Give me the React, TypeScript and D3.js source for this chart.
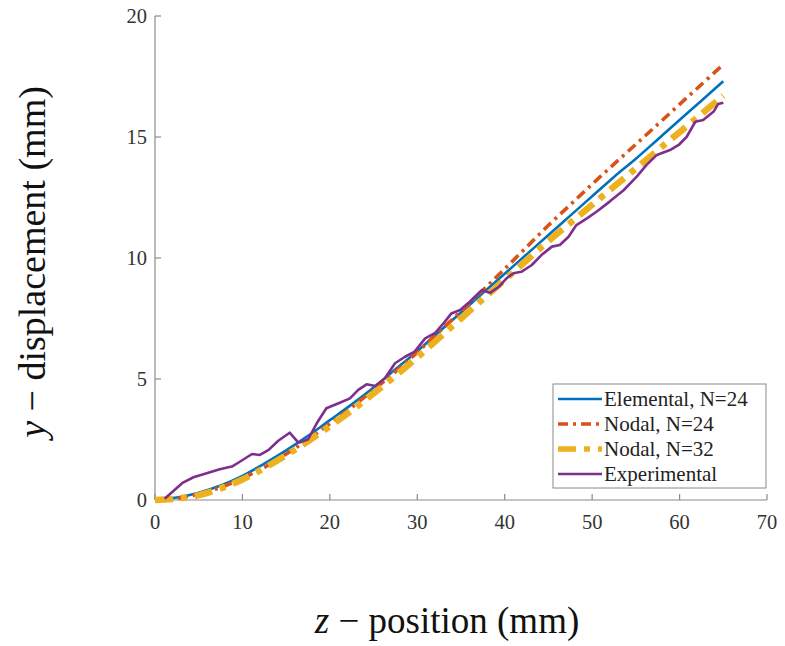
import React from "react";
import * as d3 from "d3";

const modelZ = [0, 2.5, 5, 7.5, 10, 12.5, 15, 17.5, 20, 22.5, 25, 27.5, 30, 32.5, 35, 37.5, 40, 42.5, 45, 47.5, 50, 52.5, 55, 57.5, 60, 62.5, 65];
const elementalY = [0, 0.1, 0.3, 0.6, 1.0, 1.5, 2.05, 2.65, 3.3, 3.95, 4.65, 5.4, 6.15, 6.95, 7.75, 8.55, 9.35, 10.15, 10.95, 11.75, 12.55, 13.35, 14.1, 14.9, 15.7, 16.5, 17.3];
const nodal24Y = [0, 0.07, 0.25, 0.52, 0.9, 1.35, 1.9, 2.5, 3.15, 3.83, 4.55, 5.3, 6.1, 6.95, 7.8, 8.67, 9.55, 10.45, 11.35, 12.2, 13.05, 13.88, 14.7, 15.52, 16.35, 17.17, 18.0];
const nodal32Y = [0, 0.06, 0.2, 0.48, 0.85, 1.32, 1.85, 2.43, 3.05, 3.7, 4.4, 5.13, 5.9, 6.7, 7.5, 8.3, 9.1, 9.9, 10.7, 11.45, 12.2, 12.95, 13.7, 14.45, 15.2, 15.95, 16.7];

const expZ = [1.1, 3.2, 4.4, 6.1, 7.4, 8.8, 9.7, 11.1, 12.0, 13.0, 14.1, 15.4, 16.4, 17.5, 18.5, 19.6, 21.0, 22.3, 23.25, 24.2, 25.2, 26.3, 27.45, 28.6, 29.7, 30.9, 32.0, 33.0, 33.9, 34.9, 36.0, 37.4, 38.3, 39.3, 40.2, 41.0, 41.9, 43.1, 44.2, 45.4, 46.3, 47.3, 48.2, 49.4, 50.5, 52.0, 53.6, 55.1, 56.2, 57.4, 58.9, 59.9, 60.8, 61.8, 62.7, 63.9, 64.4, 65.0];
const expY = [0.05, 0.72, 0.94, 1.13, 1.27, 1.38, 1.58, 1.9, 1.86, 2.07, 2.45, 2.78, 2.37, 2.5, 3.17, 3.79, 4.0, 4.2, 4.55, 4.78, 4.71, 5.03, 5.65, 5.92, 6.13, 6.68, 6.89, 7.3, 7.71, 7.85, 8.19, 8.68, 8.56, 8.8, 9.16, 9.37, 9.43, 9.71, 10.12, 10.47, 10.54, 10.88, 11.36, 11.64, 11.91, 12.33, 12.8, 13.36, 13.84, 14.26, 14.46, 14.67, 15.0, 15.63, 15.7, 16.05, 16.36, 16.42];

const xTicks = [0, 10, 20, 30, 40, 50, 60, 70];
const yTicks = [0, 5, 10, 15, 20];
const legendLabels = ["Elemental, N=24", "Nodal, N=24", "Nodal, N=32", "Experimental"];

const series = [
  { name: legendLabels[0], zs: modelZ, ys: elementalY, color: "#0072BD", width: 2.6, dash: "", curve: true },
  { name: legendLabels[1], zs: modelZ, ys: nodal24Y, color: "#D95319", width: 3.6, dash: "10,5,3,5", curve: true },
  { name: legendLabels[2], zs: modelZ, ys: nodal32Y, color: "#EDB120", width: 6.5, dash: "18,8,6,8", curve: true },
  { name: legendLabels[3], zs: expZ, ys: expY, color: "#7E2F8E", width: 2.6, dash: "", curve: false },
];

export default function App() {
  const W = 785, H = 646;
  const x = d3.scaleLinear().domain([0, 70]).range([155, 767]);
  const y = d3.scaleLinear().domain([0, 20]).range([500, 16]);
  const axisColor = "#8a8a8a";
  const font = "'Liberation Serif', 'Times New Roman', serif";

  const lines = series.map((s) => {
    const pts = s.zs.map((z, i) => [z, s.ys[i]] as [number, number]);
    const gen = d3.line<[number, number]>().x((d) => x(d[0])).y((d) => y(d[1]));
    if (s.curve) gen.curve(d3.curveCatmullRom);
    return gen(pts) || "";
  });

  const lgX = 553, lgY = 384, lgW = 213, lgH = 104;
  const rowH = 25;

  return (
    <svg width={W} height={H} style={{ position: "absolute", left: 0, top: 0, background: "#fff" }}>
      <rect x={0} y={0} width={W} height={H} fill="#fff" />
      {/* axes */}
      <line x1={x(0)} x2={x(0)} y1={y(0)} y2={y(20)} stroke={axisColor} strokeWidth={1.2} />
      <line x1={x(0)} x2={x(70)} y1={y(0)} y2={y(0)} stroke={axisColor} strokeWidth={1.2} />
      {xTicks.map((t) => (
        <g key={"xt" + t}>
          <line x1={x(t)} x2={x(t)} y1={y(0)} y2={y(0) - 6} stroke={axisColor} strokeWidth={1.2} />
          <text x={x(t)} y={y(0) + 29} textAnchor="middle" fontFamily={font} fontSize={20.5} fill="#333">{t}</text>
        </g>
      ))}
      {yTicks.map((t) => (
        <g key={"yt" + t}>
          <line x1={x(0)} x2={x(0) + 6} y1={y(t)} y2={y(t)} stroke={axisColor} strokeWidth={1.2} />
          <text x={x(0) - 8} y={y(t) + 7} textAnchor="end" fontFamily={font} fontSize={20.5} fill="#333">{t}</text>
        </g>
      ))}
      {/* series */}
      {series.map((s, i) => (
        <path key={s.name} d={lines[i]} fill="none" stroke={s.color} strokeWidth={s.width} strokeDasharray={s.dash || undefined} strokeLinejoin="round" />
      ))}
      {/* legend */}
      <rect x={lgX} y={lgY} width={lgW} height={lgH} fill="#fff" stroke="#8a8a8a" strokeWidth={1} />
      {series.map((s, i) => {
        const cy = lgY + 15 + i * rowH;
        return (
          <g key={"lg" + i}>
            <line x1={lgX + 5} x2={lgX + 49} y1={cy} y2={cy} stroke={s.color} strokeWidth={Math.min(s.width, 5.5)} strokeDasharray={s.dash || undefined} />
            <text x={lgX + 51} y={cy + 7} fontFamily={font} fontSize={21} fill="#222">{s.name}</text>
          </g>
        );
      })}
      {/* axis labels */}
      <text x={447} y={633} textAnchor="middle" fontFamily={font} fontSize={37} fill="#111">
        <tspan fontStyle="italic">z</tspan>
        <tspan> − position (mm)</tspan>
      </text>
      <text transform="translate(45,262) rotate(-90)" textAnchor="middle" fontFamily={font} fontSize={38} fill="#111">
        <tspan fontStyle="italic">y</tspan>
        <tspan> − displacement (mm)</tspan>
      </text>
    </svg>
  );
}
